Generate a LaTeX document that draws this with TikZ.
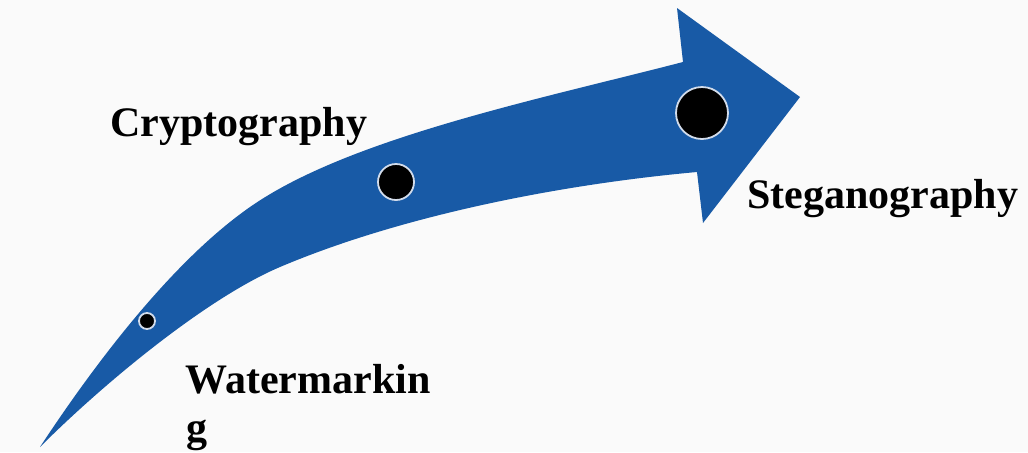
\documentclass[tikz,border=0pt]{standalone}
\usepackage{fontspec}
\setmainfont{Liberation Serif}
\definecolor{arrowblue}{RGB}{24,90,166}
\definecolor{ringcol}{RGB}{210,220,235}
\definecolor{bgcol}{RGB}{250,250,250}
\begin{document}
\begin{tikzpicture}[x=0.5pt,y=-0.5pt,
  dot/.style={circle,fill=black,draw=ringcol,line width=0.9pt,inner sep=0pt},
  label/.style={anchor=base west,inner sep=0pt,font=\fontsize{21}{24}\selectfont\bfseries}]
\fill[bgcol] (0,0) rectangle (1028,452);
\useasboundingbox (0,0) rectangle (1028,452);
% arrow body
\fill[arrowblue] (40,447)
  .. controls (100.5,355) and (176,258.6) .. (250,207)
  .. controls (348.4,138.2) and (537.8,99.6) .. (683,62)
  -- (677,8) -- (800,97) -- (703,223) -- (697,172)
  .. controls (557.6,184.6) and (399.6,216.3) .. (280,267)
  .. controls (206.4,298.2) and (103.6,383.4) .. (40,447)
  -- cycle;
% dots
\node[dot,minimum size=8pt] (d1) at (147,321) {};
\node[dot,minimum size=18pt] (d2) at (396,182) {};
\node[dot,minimum size=26pt] (d3) at (702,113) {};
% labels
\node[label] (crypto) at (110,136) {Cryptography};
\node[label] (stego) at (747,208) {Steganography};
\node[label] (wm1) at (185,393) {Watermarkin};
\node[label] (wm2) at (186,441) {g};
\end{tikzpicture}
\end{document}
